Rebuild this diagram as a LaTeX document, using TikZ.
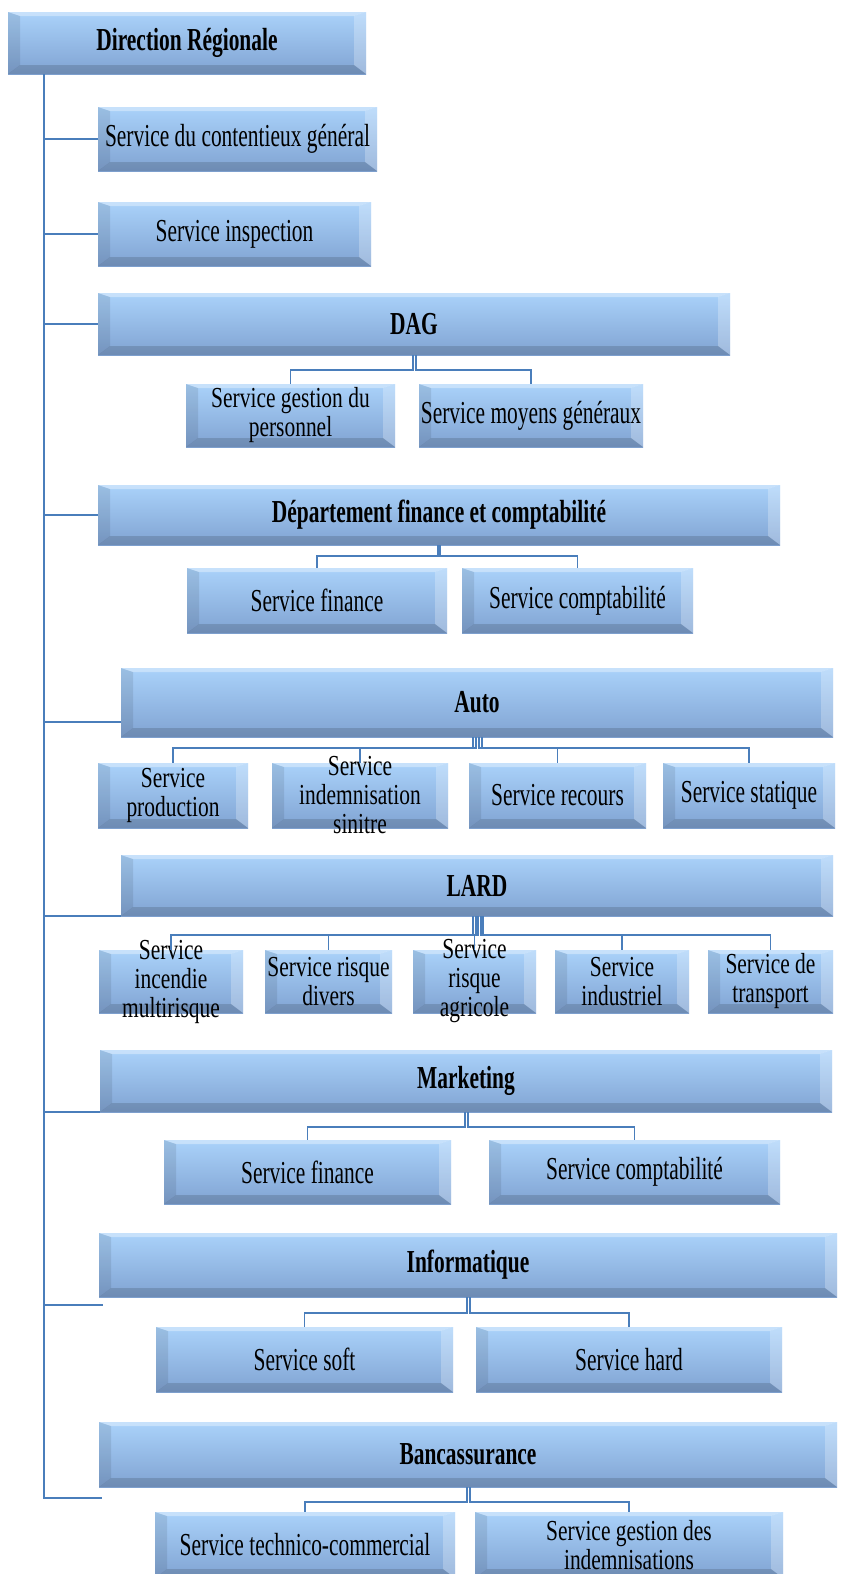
\documentclass[tikz,border=0pt]{standalone}
\usepackage{fontspec}
\setmainfont{Liberation Serif}[FakeStretch=0.67]
\newfontfamily\narrowfont{Liberation Serif}[FakeStretch=0.74]
\usepackage{tikz}
\usetikzlibrary{positioning, calc}
\usepackage{xcolor}

\definecolor{faceTop}{RGB}{170,210,250}
\definecolor{faceBot}{RGB}{128,163,210}
\definecolor{linkblue}{RGB}{74,126,187}

\begin{document}
\begin{tikzpicture}[x=1pt, y=-1pt]
		\useasboundingbox (0,0) rectangle (841,1574);
		
		% Define block styles
		\tikzstyle{unit} = [rectangle, inner sep=0pt, align=center, font=\fontsize{32}{28}\selectfont,
			path picture={
				\shade[top color=faceTop, bottom color=faceBot] (path picture bounding box.north west) rectangle (path picture bounding box.south east);
				\fill[white, fill opacity=0.35] (path picture bounding box.north west) -- (path picture bounding box.north east) -- ([xshift=-12pt,yshift=-4pt]path picture bounding box.north east) -- ([xshift=12pt,yshift=-4pt]path picture bounding box.north west) -- cycle;
				\fill[black, fill opacity=0.09] (path picture bounding box.north west) -- ([xshift=12pt,yshift=-4pt]path picture bounding box.north west) -- ([xshift=12pt,yshift=9pt]path picture bounding box.south west) -- (path picture bounding box.south west) -- cycle;
				\fill[white, fill opacity=0.25] (path picture bounding box.north east) -- ([xshift=-12pt,yshift=-4pt]path picture bounding box.north east) -- ([xshift=-12pt,yshift=9pt]path picture bounding box.south east) -- (path picture bounding box.south east) -- cycle;
				\fill[black, fill opacity=0.14] (path picture bounding box.south west) -- ([xshift=12pt,yshift=9pt]path picture bounding box.south west) -- ([xshift=-12pt,yshift=9pt]path picture bounding box.south east) -- (path picture bounding box.south east) -- cycle;
			}]
		\tikzstyle{head} = [unit, font=\bfseries\fontsize{32}{28}\selectfont]
		\tikzstyle{twoline} = [unit, font=\narrowfont\fontsize{29}{29}\selectfont]
		\tikzstyle{lab} = [align=center, inner sep=0pt, font=\narrowfont\fontsize{29}{29}\selectfont]
		\tikzstyle{link} = [draw=linkblue, line width=1.5pt]
		
		% Nodes
		\node[head, minimum width=358, minimum height=62] (dr) at (187,43) {Direction Régionale};
		\node[unit, minimum width=279, minimum height=64] (scg) at (237.5,139) {Service du contentieux général};
		\node[unit, minimum width=273, minimum height=64] (si) at (234.5,234) {Service inspection};
		
		\node[head, minimum width=632, minimum height=62] (dag) at (414,324) {DAG};
		\node[twoline, minimum width=209, minimum height=63] (sgp) at (290.5,415.5) {Service gestion du\\personnel};
		\node[unit, minimum width=224, minimum height=63] (smg) at (531,415.5) {Service moyens généraux};
		
		\node[head, minimum width=682, minimum height=60] (dfc) at (439,515) {Département finance et comptabilité};
		\node[unit, minimum width=260, minimum height=65] (sfin) at (317,600.5) {Service finance};
		\node[unit, minimum width=231, minimum height=65] (scpt) at (577.5,600.5) {Service comptabilité};
		
		\node[head, minimum width=712, minimum height=69] (auto) at (477,702.5) {Auto};
		\node[twoline, minimum width=150, minimum height=65] (sp) at (173,795.5) {Service\\production};
		\node[unit, minimum width=176, minimum height=65, label={[lab]center:Service\\indemnisation\\sinitre}] (sis) at (360,795.5) {};
		\node[unit, minimum width=177, minimum height=65] (sr) at (557.5,795.5) {Service recours};
		\node[unit, minimum width=172, minimum height=65] (ss) at (749,795.5) {Service statique};
		
		\node[head, minimum width=712, minimum height=61] (lard) at (477,885.5) {LARD};
		\node[unit, minimum width=144, minimum height=63, label={[lab]center:Service\\incendie\\multirisque}] (sim) at (171,981.5) {};
		\node[twoline, minimum width=127, minimum height=63] (srd) at (328.5,981.5) {Service risque\\divers};
		\node[unit, minimum width=123, minimum height=63, label={[lab]center:Service\\risque\\agricole}] (sra) at (474.5,981.5) {};
		\node[twoline, minimum width=134, minimum height=63] (sind) at (622,981.5) {Service\\industriel};
		\node[twoline, minimum width=125, minimum height=63] (sdt) at (770.5,981.5) {Service de\\transport};
		
		\node[head, minimum width=732, minimum height=62] (mkt) at (466,1081) {Marketing};
		\node[unit, minimum width=287, minimum height=64] (mfin) at (307.5,1172) {Service finance};
		\node[unit, minimum width=291, minimum height=64] (mcpt) at (634.5,1172) {Service comptabilité};
		
		\node[head, minimum width=738, minimum height=64] (info) at (468,1265) {Informatique};
		\node[unit, minimum width=297, minimum height=65] (soft) at (304.5,1359.5) {Service soft};
		\node[unit, minimum width=306, minimum height=65] (hard) at (629,1359.5) {Service hard};
		
		\node[head, minimum width=738, minimum height=65] (banc) at (468,1454.5) {Bancassurance};
		\node[unit, minimum width=300, minimum height=66] (stc) at (305,1545) {Service technico-commercial};
		\node[twoline, minimum width=308, minimum height=66] (sgi) at (629,1545) {Service gestion des\\indemnisations};
		
		% Trunk and branches
		\coordinate (trunk) at (44,0);
		\coordinate (autoin) at ([yshift=15pt]auto.south west);
		\coordinate (infoin) at ([xshift=4pt,yshift=-8pt]info.south west);
		\coordinate (bancin) at ([xshift=3pt,yshift=-11pt]banc.south west);
		\draw[link] (trunk |- dr.south) |- (bancin);
		\foreach \b in {scg.west, si.west, dag.west, dfc.west, autoin, lard.south west, mkt.south west, infoin}
			\draw[link] (trunk |- \b) -- (\b);
		
		% Arrows to the services
		\foreach \c/\s in {sgp/-1, smg/2}
			\draw[link] ([xshift=\s pt]dag.south) -- ++(0,15) -| (\c.north);
		\foreach \c/\s in {sfin/-1, scpt/1}
			\draw[link] ([xshift=\s pt]dfc.south) -- ++(0,11) -| (\c.north);
		\foreach \c/\s in {sp/-4, sis/-1, sr/2, ss/5}
			\draw[link] ([xshift=\s pt]auto.south) -- ++(0,11) -| (\c.north);
		\foreach \c/\s in {sim/-4, srd/-1, sra/1, sind/4, sdt/6}
			\draw[link] ([xshift=\s pt]lard.south) -- ++(0,19) -| (\c.north);
		\foreach \c/\s in {mfin/-1, mcpt/2}
			\draw[link] ([xshift=\s pt]mkt.south) -- ++(0,15) -| (\c.north);
		\foreach \c/\s in {soft/-1, hard/2}
			\draw[link] ([xshift=\s pt]info.south) -- ++(0,16) -| (\c.north);
		\foreach \c/\s in {stc/-1, sgi/2}
			\draw[link] ([xshift=\s pt]banc.south) -- ++(0,15) -| (\c.north);
		
\end{tikzpicture}
\end{document}
